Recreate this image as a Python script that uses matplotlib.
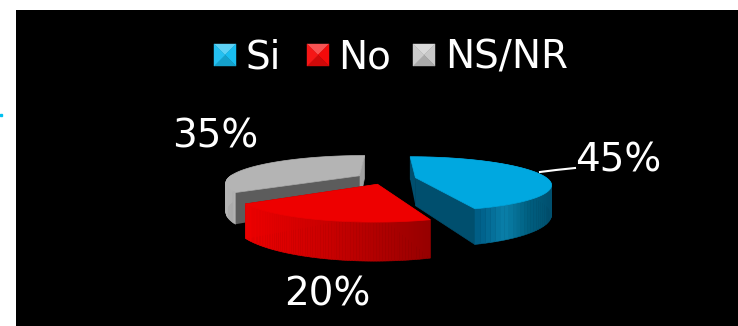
import numpy as np
import matplotlib.pyplot as plt
from matplotlib.patches import Polygon, Rectangle
from matplotlib.colors import to_rgb

labels = ['Si', 'No', 'NS/NR']
shares = [45, 20, 35]
share_text = ['45%', '20%', '35%']

top_colors = ['#00a8e0', '#ee0000', '#b4b4b4']
# outer wall gradient stops, left to right on screen
side_colors = [['#004f6e', '#004f6e', '#004f6e', '#00608a', '#0a80aa', '#005f80', '#004f6e'],
               ['#ee0000', '#c40000', '#960000'],
               ['#b4b4b4', '#a4a4a4', '#8c8c8c']]
wall_colors = ['#004f6e', '#a00000', '#5c5c5c']
end_wall_colors = ['#004f6e', '#a00000', '#a0a0a0']

# projection of the pie plane on to the picture, in pixels
vx, vy = 387, 65
fx, fy = 575, 495
depth = 4.36
wall = 123
explode = [0.22, 0.22, 0.24]


def project(x, y):
    d = depth + y
    return vx + fx * x / d, vy + fy / d


def lerp_stops(stops, t):
    stops = [np.array(to_rgb(c)) for c in stops]
    pos = t * (len(stops) - 1)
    i = min(int(pos), len(stops) - 2)
    return tuple(stops[i] + (stops[i + 1] - stops[i]) * (pos - i))


def draw_wedge(ax, start, share, top, sides, wall_col, end_col, expl):
    end = start + share / 100 * 2 * np.pi
    mid = (start + end) / 2
    ox, oy = expl * np.sin(mid), expl * np.cos(mid)
    th = np.linspace(start, end, 80)
    px, py = project(ox + np.sin(th), oy + np.cos(th))
    cx, cy = project(ox, oy)
    drop = wall / (depth + oy + np.cos(th))
    cdrop = wall / (depth + oy)

    # flat walls along both cut edges
    ax.add_patch(Polygon([(cx, cy), (px[-1], py[-1]), (px[-1], py[-1] + drop[-1]), (cx, cy + cdrop)],
                         fc=end_col, ec=end_col, lw=0.5))
    ax.add_patch(Polygon([(cx, cy), (px[0], py[0]), (px[0], py[0] + drop[0]), (cx, cy + cdrop)],
                         fc=wall_col if start > 0 else end_col, ec='none'))

    # outer wall in thin strips, for the shading
    lo, hi = px.min(), px.max()
    for i in range(len(th) - 1):
        if np.cos((th[i] + th[i + 1]) / 2) > 0.05 and px[i] > lo + 1 and start > 0:
            continue
        col = lerp_stops(sides, ((px[i] + px[i + 1]) / 2 - lo) / (hi - lo))
        ax.add_patch(Polygon([(px[i], py[i]), (px[i + 1], py[i + 1]),
                              (px[i + 1], py[i + 1] + drop[i + 1]), (px[i], py[i] + drop[i])],
                             fc=col, ec=col, lw=0.4))

    ax.add_patch(Polygon(np.r_[[(cx, cy)], np.c_[px, py]], fc=top, ec=top, lw=0.5))


def draw_key(ax, x, y, size, color):
    base = np.array(to_rgb(color))
    cen = (x + size / 2, y + size / 2)
    corners = [(x, y), (x + size, y), (x + size, y + size), (x, y + size)]
    tints = [0.3, 0.0, -0.15, 0.05]
    for i in range(4):
        t = tints[i]
        c = base + (1 - base) * t if t > 0 else base * (1 + t)
        ax.add_patch(Polygon([corners[i], corners[(i + 1) % 4], cen], fc=c, ec=c, lw=0.3))


fig = plt.figure(figsize=(7.38, 3.26), dpi=100, facecolor='white')
ax = fig.add_axes([0, 0, 1, 1])
ax.set_xlim(0, 738)
ax.set_ylim(326, 0)
ax.axis('off')

ax.add_patch(Rectangle((16, 10), 722, 316, fc='black', ec='none'))
ax.plot([0.5], [115], 's', ms=1.5, color='#00c0f0', clip_on=False)

# back to front
starts = np.r_[0, np.cumsum(shares)[:-1]] / 100 * 2 * np.pi
for i in [2, 0, 1]:
    draw_wedge(ax, starts[i], shares[i], top_colors[i], side_colors[i], wall_colors[i],
               end_wall_colors[i], explode[i])

label_pos = [(618, 171), (327, 305), (215, 147)]
for txt, (x, y) in zip(share_text, label_pos):
    ax.text(x, y, txt, color='white', fontsize=28, ha='center', va='baseline', family='DejaVu Sans')
ax.plot([540, 556, 575], [172, 170, 168], color='white', lw=1.5)

key_x = [214, 307, 413]
text_x = [245, 338, 445]
key_colors = ['#18bdf0', '#f40a0a', '#c8c8c8']
for i in range(3):
    draw_key(ax, key_x[i], 44, 22, key_colors[i])
    ax.text(text_x[i], 68.5, labels[i], color='white', fontsize=28, ha='left', va='baseline', family='DejaVu Sans')

fig.savefig('out.png', dpi=100)
